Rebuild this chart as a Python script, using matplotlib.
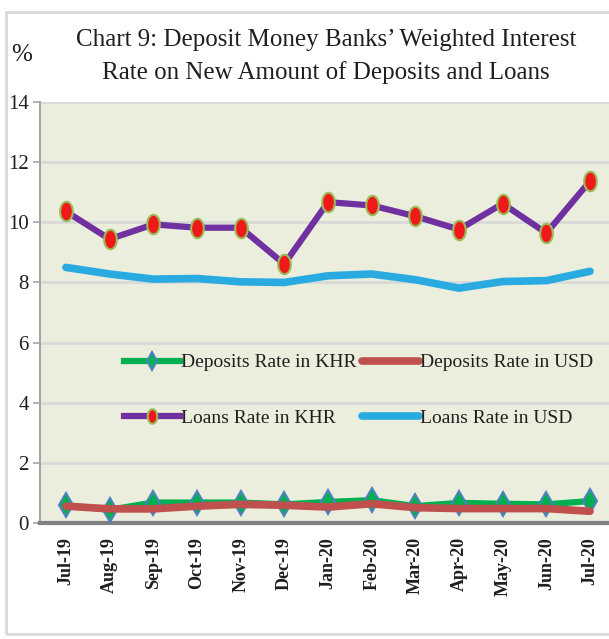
import matplotlib
matplotlib.use("Agg")
import matplotlib.pyplot as plt
from matplotlib.path import Path
from matplotlib.patches import Rectangle
import numpy as np

months = ["Jul-19", "Aug-19", "Sep-19", "Oct-19", "Nov-19", "Dec-19", "Jan-20",
          "Feb-20", "Mar-20", "Apr-20", "May-20", "Jun-20", "Jul-20"]
deposits_khr = [0.59, 0.44, 0.68, 0.68, 0.68, 0.62, 0.70, 0.76, 0.56, 0.67, 0.64, 0.62, 0.73]
deposits_usd = [0.56, 0.47, 0.47, 0.56, 0.62, 0.59, 0.53, 0.64, 0.51, 0.48, 0.48, 0.48, 0.39]
loans_khr = [10.36, 9.44, 9.93, 9.82, 9.82, 8.61, 10.67, 10.56, 10.20, 9.76, 10.62, 9.64, 11.37]
loans_usd = [8.50, 8.28, 8.11, 8.13, 8.02, 8.00, 8.22, 8.28, 8.09, 7.81, 8.03, 8.06, 8.37]
yticks = [0, 2, 4, 6, 8, 10, 12, 14]

serif = "Liberation Serif"
txt = "#1F1F1F"

fig = plt.figure(figsize=(6.09, 6.39), dpi=100)
fig.patch.set_facecolor("white")
fig.patches.append(Rectangle((6 / 609, 1 - 634 / 639), 1.2, 622 / 639, transform=fig.transFigure,
                             fill=False, edgecolor="#D9D9D9", linewidth=2, zorder=0))

ax = fig.add_axes([40 / 609, 1 - 523 / 639, 1 - 40 / 609, 421 / 639])
ax.set_facecolor("#EBEEDD")

x = np.arange(len(months))

# ellipse marker
t = np.linspace(0, 2 * np.pi, 40)
ell = Path(np.column_stack([0.65 * np.cos(t), np.sin(t)]), closed=True)

h1, = ax.plot(x, deposits_khr, color="#00B050", lw=4.5, marker="d", markersize=12,
              markerfacecolor="#00B050", markeredgecolor="#4F81BD", markeredgewidth=1.5,
              label="Deposits Rate in KHR", zorder=3)
h2, = ax.plot(x, deposits_usd, color="#C0504D", lw=5.5, label="Deposits Rate in USD", zorder=4,
              solid_capstyle="round")
h3, = ax.plot(x, loans_khr, color="#7030A0", lw=4.5, marker=ell, markersize=14,
              markerfacecolor="#F01818", markeredgecolor="#9BBB59", markeredgewidth=1.5,
              label="Loans Rate in KHR", zorder=3)
h4, = ax.plot(x, loans_usd, color="#29ABE2", lw=5.5, label="Loans Rate in USD", zorder=3,
              solid_capstyle="round")

ax.set_xlim(-0.595, 12.435)
ax.set_ylim(0, 14)
ax.set_yticks(yticks)
ax.set_yticklabels([str(v) for v in yticks], fontfamily=serif, fontsize=15, color=txt)
ax.set_xticks(x)
ax.set_xticklabels(months, rotation=90, fontfamily=serif, fontsize=13, fontweight="bold",
                   color=txt)
ax.tick_params(axis="x", length=0, pad=10)
ax.tick_params(axis="y", length=5, color="#A6A6A6", width=1.2, pad=3)
ax.yaxis.grid(True, color="#D9D9D9", linewidth=2)
ax.set_axisbelow(True)
for s in ["top", "right"]:
    ax.spines[s].set_visible(False)
ax.spines["left"].set_color("#A6A6A6")
ax.spines["left"].set_linewidth(1.5)
ax.spines["bottom"].set_color("#808080")
ax.spines["bottom"].set_linewidth(3)

leg = ax.legend(handles=[h1, h3, h2, h4], loc="upper left", bbox_to_anchor=(0.13, 0.425),
                ncol=2, frameon=False, prop={"family": serif, "size": 14},
                handlelength=2.9, handletextpad=0.05, labelspacing=1.95,
                columnspacing=0.3, borderpad=0, markerscale=0.75)
for t_ in leg.get_texts():
    t_.set_color(txt)

fig.text(0.535, 1 - 40 / 639, "Chart 9: Deposit Money Banks\u2019 Weighted Interest",
         ha="center", va="center", fontfamily=serif, fontsize=18, color=txt)
fig.text(0.535, 1 - 73 / 639, "Rate on New Amount of Deposits and Loans",
         ha="center", va="center", fontfamily=serif, fontsize=18, color=txt)
fig.text(22 / 609, 1 - 55 / 639, "%", ha="center", va="center", fontfamily=serif,
         fontsize=18, color=txt)

fig.savefig("out.png", dpi=100)
